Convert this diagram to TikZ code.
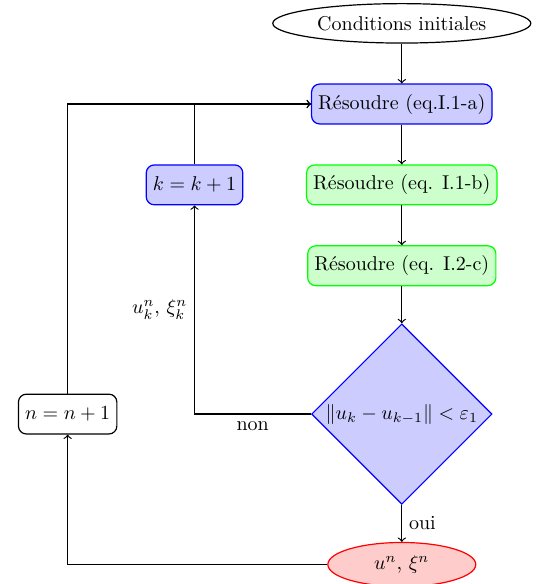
\documentclass[tikz,border=0pt]{standalone}
\usepackage{amsmath}
\usepackage{amssymb}
\usepackage{tikz}
\usepackage{xcolor}
\usetikzlibrary{calc}
\usetikzlibrary{positioning}
\usetikzlibrary{shapes.geometric}
\colorlet{bleuclair}{blue!20!white}
\colorlet{vertclair}{green!20!white}
\colorlet{rougeclair}{red!20!white}
\tikzstyle{debut} = [draw, ellipse]
\tikzstyle{fin} = [
    draw=red,
    fill=rougeclair,
    ellipse,
    minimum width=2.6cm
    ]
\tikzstyle{etape} = [
    draw=blue,
    fill=bleuclair,
    rectangle,
    rounded corners,
    minimum height=0.7cm
    ]
\tikzstyle{etapeverte} = [etape, draw=green, fill=vertclair]
\tikzstyle{compteur} = [draw, rectangle, rounded corners, minimum height=0.7cm]
\tikzstyle{test} = [
    draw=blue,
    fill=bleuclair,
    diamond,
    aspect=1,
    inner sep=1pt
    ]

\begin{document}
\begin{tikzpicture}[node distance=0.7cm, semithick]
\useasboundingbox (-200.9pt,52pt) rectangle (67.2pt,-240pt);
\node [etape] (resa) {Résoudre (eq.I.1-a)};
\node [debut, above=of resa] (init) {Conditions initiales};
\node [etapeverte, below=of resa] (resb) {Résoudre (eq. I.1-b)};
\node [etapeverte, below=of resb] (resc) {Résoudre (eq. I.2-c)};
\node [test, below=0.65cm of resc] (conv) {$\|u_k-u_{k-1}\|<\varepsilon_1$};
\node [fin, below=0.65cm of conv] (sol) {$u^n$, $\xi^n$};
\node [etape, left=1.1cm of resb] (kk) {$k=k+1$};
\node [compteur, left=3.4cm of conv] (nn) {$n=n+1$};
% fleches
\draw[->] (init) -- (resa);
\draw[->] (resa) -- (resb);
\draw[->] (resb) -- (resc);
\draw[->] (resc) -- (conv);
\draw[->] (conv) -| node[below, pos=0.25]{non} node[left, pos=0.75]{$u_k^n$, $\xi_k^n$} (kk);
\draw[->] (kk) |- (resa);
\draw[->] (nn) |- (resa);
\draw[->] (conv) -- node[right]{oui} (sol);
\draw[->] (sol) -| (nn);
\end{tikzpicture}
\end{document}
